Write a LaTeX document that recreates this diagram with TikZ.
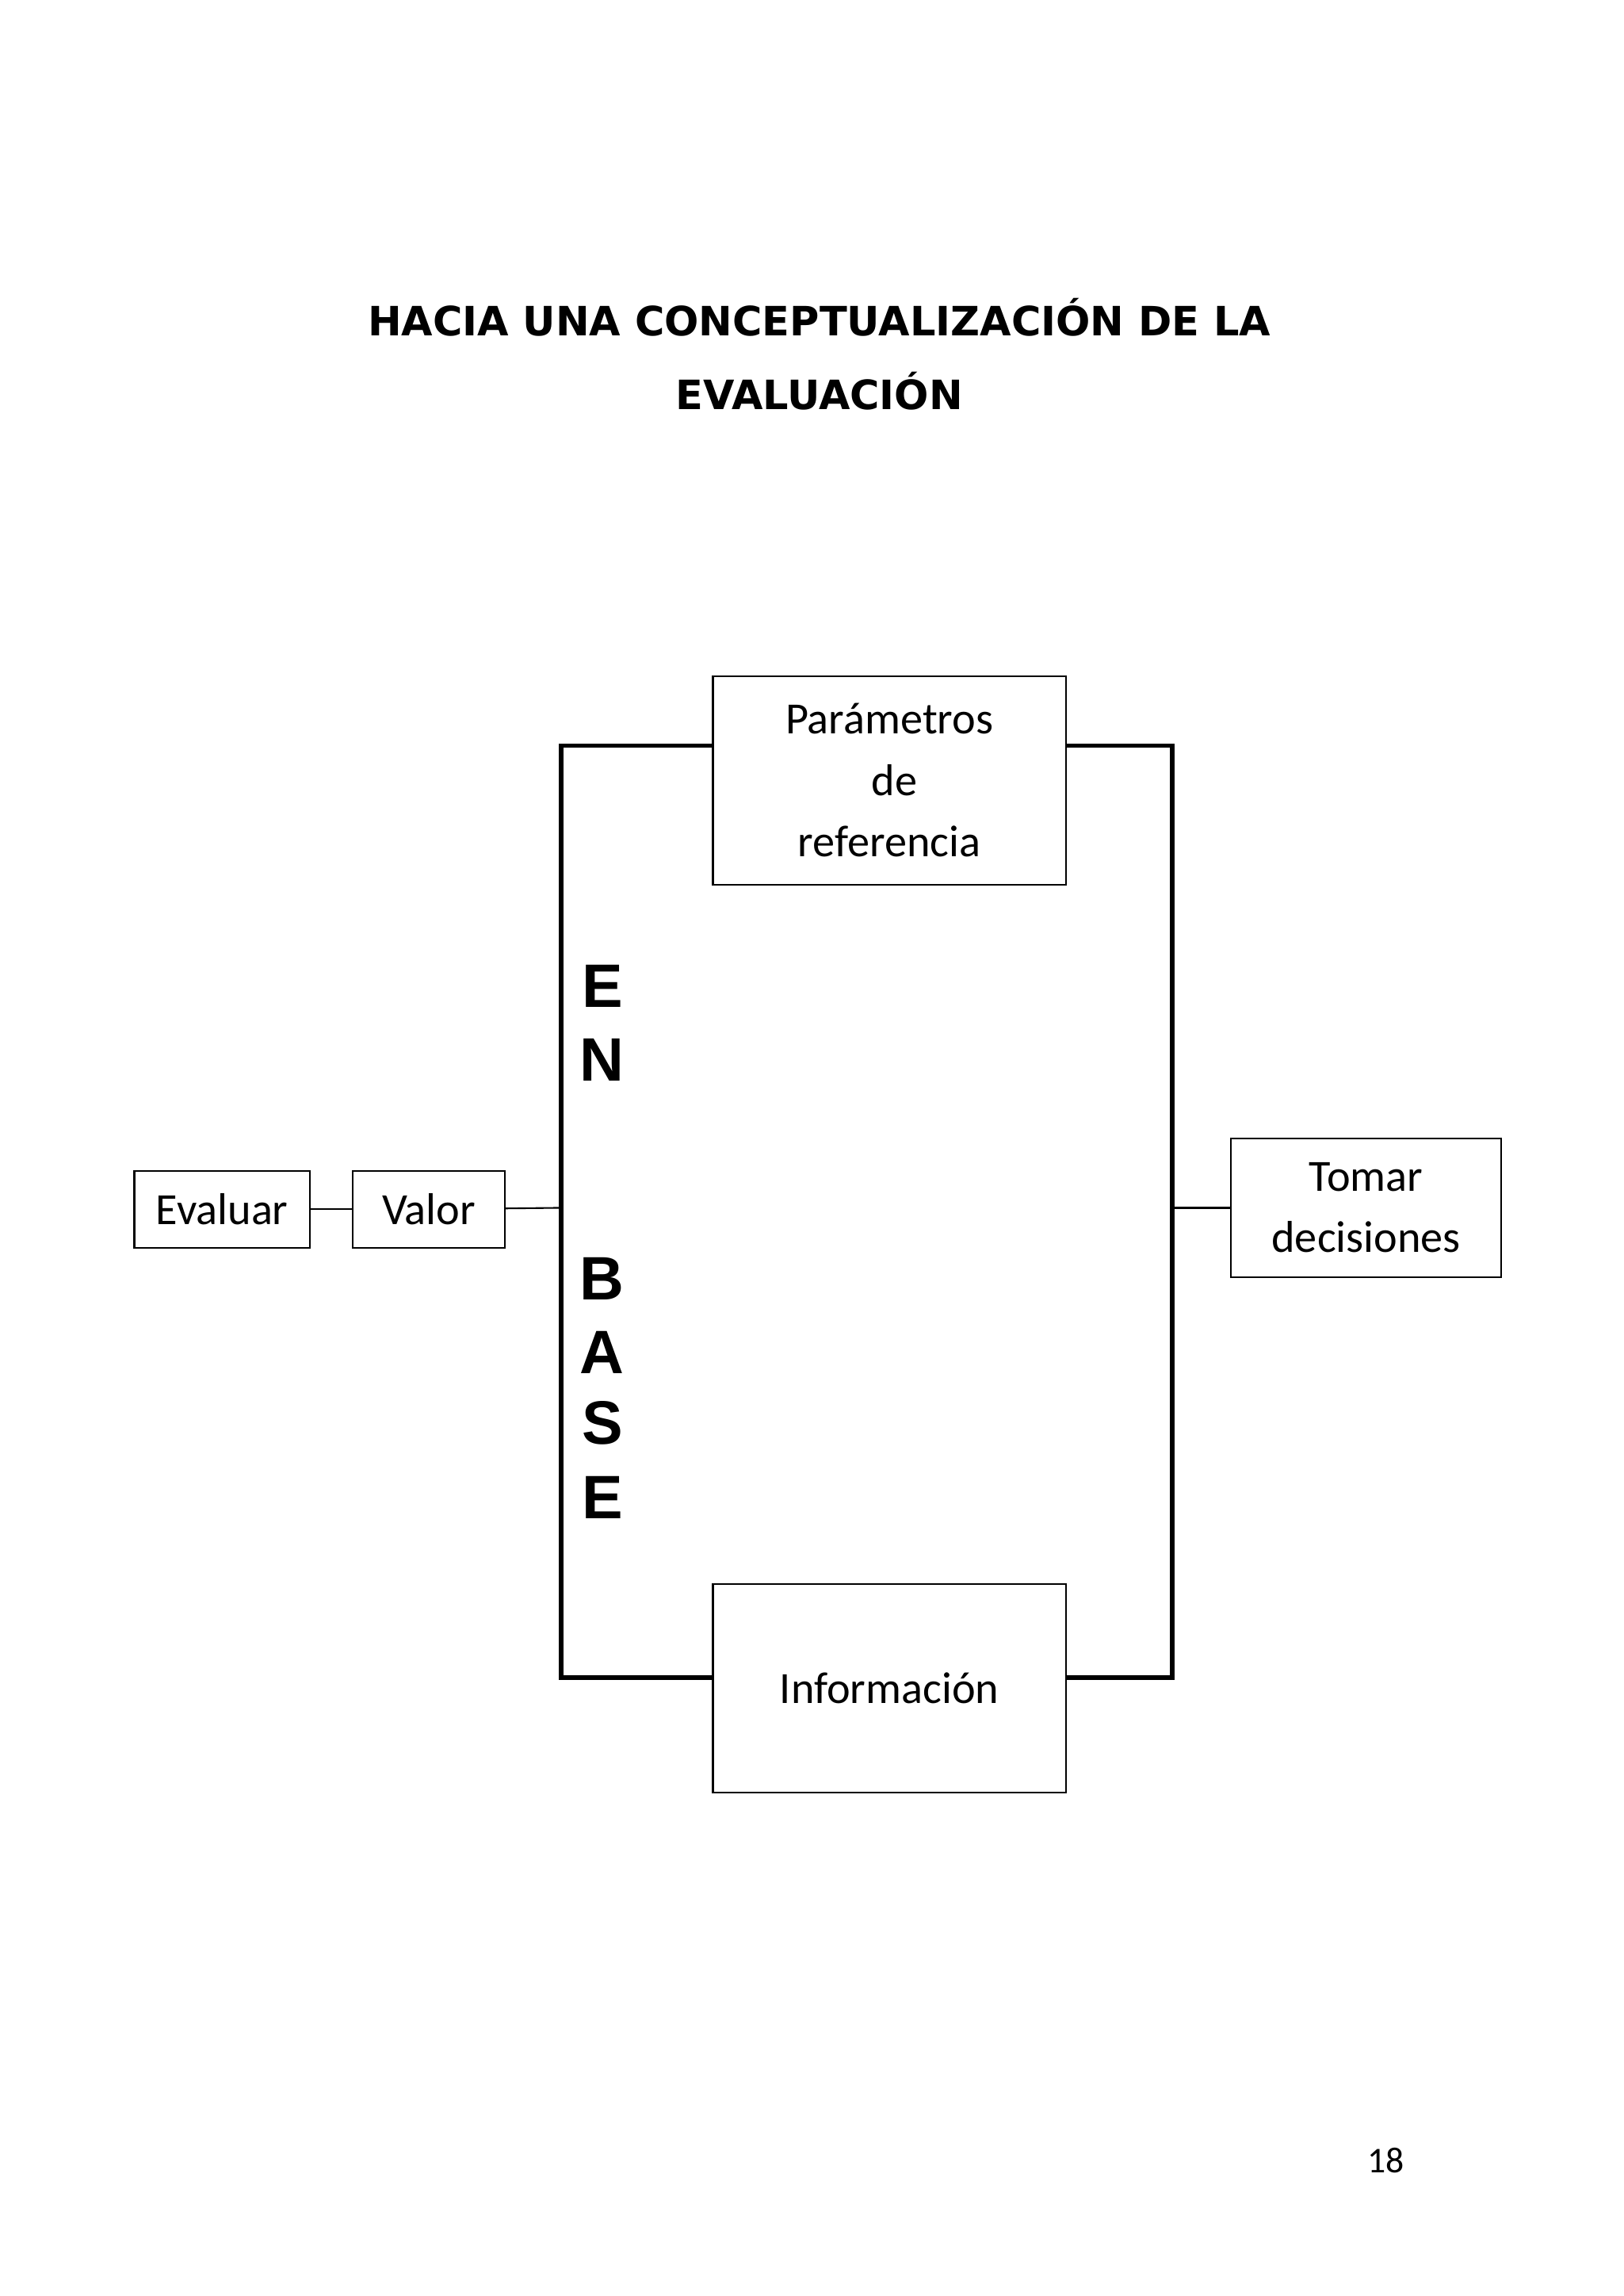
\documentclass[tikz,border=0pt]{standalone}
\usepackage{fontspec}
\setmainfont{Carlito}
\newfontfamily\titlefont{DejaVu Sans}
\newfontfamily\arialf{Liberation Sans}
\begin{document}
\begin{tikzpicture}[x=0.01862cm,y=-0.01862cm,
  box/.style={draw,line width=0.6pt,fill=white,align=center,font=\fontsize{16}{22}\selectfont},
  big/.style={font=\arialf\bfseries\fontsize{22}{26}\selectfont}]
\useasboundingbox (0,0) rectangle (1100,1555);
\node[font=\titlefont\bfseries\fontsize{14.5}{18}\selectfont] (t1) at (555,215) {HACIA UNA CONCEPTUALIZACIÓN DE LA};
\node[font=\titlefont\bfseries\fontsize{14.5}{18}\selectfont] (t2) at (555,265) {EVALUACIÓN};
\draw[line width=1.6pt] (380,505) rectangle (794,1136);
\coordinate (L) at (380,818);
\coordinate (R) at (794,818);
\node[box,minimum width=239*0.01862cm,minimum height=141*0.01862cm] (par) at (602.5,528.5) {Parámetros\\ \ de\\ referencia};
\node[box,minimum width=239*0.01862cm,minimum height=141*0.01862cm] (inf) at (602.5,1143.5) {Información};
\node[box,minimum width=119*0.01862cm,minimum height=52*0.01862cm] (ev) at (150.5,819) {Evaluar};
\node[box,minimum width=103*0.01862cm,minimum height=52*0.01862cm] (va) at (290.5,819) {Valor};
\node[box,minimum width=183*0.01862cm,minimum height=94*0.01862cm] (to) at (925.5,818) {Tomar\\decisiones};
\draw[line width=0.6pt] (ev) -- (va);
\draw[line width=0.6pt] (va) -- (L);
\draw[line width=0.6pt] (R) -- (to);
\node[big] (e1) at (408,668) {E};
\node[big] (n1) at (408,718) {N};
\node[big] (b1) at (408,866) {B};
\node[big] (a1) at (408,916) {A};
\node[big] (s1) at (408,964) {S};
\node[big] (e2) at (408,1014) {E};
\node[font=\fontsize{13}{15}\selectfont] (pg) at (939,1463) {18};
\end{tikzpicture}
\end{document}
